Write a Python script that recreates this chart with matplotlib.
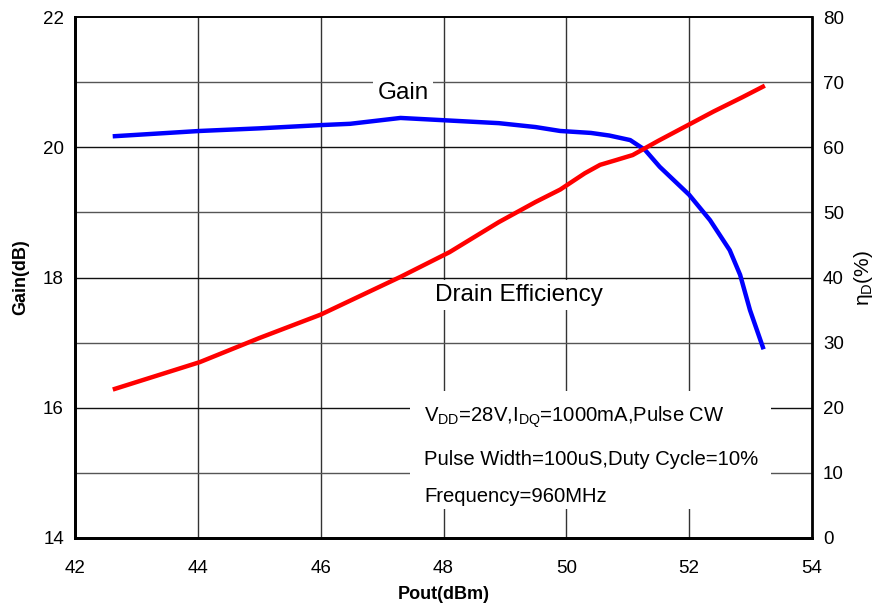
import matplotlib
matplotlib.use("Agg")
import matplotlib.pyplot as plt
from matplotlib.patches import Rectangle

plt.rcParams['font.family'] = ['Liberation Sans', 'DejaVu Sans']
plt.rcParams['mathtext.fontset'] = 'custom'
plt.rcParams['mathtext.rm'] = 'Liberation Sans'
plt.rcParams['mathtext.it'] = 'Liberation Sans:italic'
plt.rcParams['mathtext.bf'] = 'Liberation Sans:bold'

# Data
gain_pout = [42.65, 44.03, 45.0, 46.0, 46.48, 47.3, 48.1, 48.9, 49.5, 49.9, 50.4, 50.7,
             51.04, 51.28, 51.52, 52.0, 52.34, 52.66, 52.83, 52.99, 53.2]
gain_db = [20.17, 20.25, 20.29, 20.34, 20.36, 20.45, 20.41, 20.37, 20.31, 20.25, 20.22, 20.18,
           20.11, 19.96, 19.70, 19.27, 18.88, 18.42, 18.04, 17.50, 16.93]

eff_pout = [42.65, 44.03, 45.0, 46.0, 47.3, 48.1, 48.9, 49.5, 49.9, 50.3, 50.55, 50.8,
            51.08, 51.5, 51.98, 52.4, 52.87, 53.2]
eff_pct = [22.9, 27.0, 30.7, 34.3, 40.1, 43.9, 48.5, 51.6, 53.5, 56.0, 57.3, 58.0,
           58.8, 61.0, 63.4, 65.5, 67.7, 69.3]

x_ticks = [42, 44, 46, 48, 50, 52, 54]
left_ticks = [14, 16, 18, 20, 22]
right_ticks = [0, 10, 20, 30, 40, 50, 60, 70, 80]

fig = plt.figure(figsize=(8.82, 6.06), dpi=100)
ax = fig.add_axes([75/882, 68/606, 737/882, 521/606])
ax2 = ax.twinx()

ax.set_xlim(42, 54)
ax.set_ylim(14, 22)
ax2.set_ylim(0, 80)

# grid
for xv in x_ticks[1:-1]:
    ax.axvline(xv, color='#333333', lw=1.0, zorder=0)
for yv in range(15, 22):
    c = '#111111' if yv % 2 == 0 else '#555555'
    ax.axhline(yv, color=c, lw=1.0, zorder=0)

ax.set_xticks(x_ticks)
ax.set_yticks(left_ticks)
ax2.set_yticks(right_ticks)
ax.tick_params(axis='y', length=0, labelsize=13.5, pad=8)
ax.tick_params(axis='x', length=0, labelsize=13.5, pad=16)
ax2.tick_params(axis='y', length=0, labelsize=13.5, pad=8)

for s in ['left', 'bottom']:
    ax.spines[s].set_linewidth(2)
ax2.spines['right'].set_linewidth(2)
ax2.spines['left'].set_linewidth(2)
ax2.spines['bottom'].set_linewidth(2)
ax.spines['top'].set_linewidth(1.2)
ax2.spines['top'].set_linewidth(1.2)

ax.set_xlabel('Pout(dBm)', fontsize=13, fontweight='bold', labelpad=6)
ax.set_ylabel('Gain(dB)', fontsize=13, fontweight='bold', labelpad=10)
ax2.set_ylabel(r'$\mathregular{\eta_D(\%)}$', fontsize=15, labelpad=6)

# white box behind conditions text (covers grid)
ax.add_patch(Rectangle((0.455, 0.055), 0.49, 0.227, transform=ax.transAxes,
                       facecolor='white', edgecolor='none', zorder=1))

ax.plot(gain_pout, gain_db, color='#0000ff', lw=3.2, zorder=3)
ax2.plot(eff_pout, eff_pct, color='#ff0000', lw=3.2, zorder=3)

ax.text(47.34, 20.83, 'Gain', fontsize=17.5, ha='center', va='center', zorder=2,
        bbox=dict(facecolor='white', edgecolor='none', pad=3))
ax.text(49.23, 17.73, 'Drain Efficiency', fontsize=17.5, ha='center', va='center', zorder=2,
        bbox=dict(facecolor='white', edgecolor='none', pad=3))

tx = 0.474
ax.text(tx, 0.2226, r'$\mathregular{V_{DD}}$=28V,$\mathregular{I_{DQ}}$=1000mA,Pulse CW',
        transform=ax.transAxes, fontsize=14.6, va='baseline', zorder=2)
ax.text(tx, 0.1401, 'Pulse Width=100uS,Duty Cycle=10%', transform=ax.transAxes,
        fontsize=14.6, va='baseline', zorder=2)
ax.text(tx, 0.0691, 'Frequency=960MHz', transform=ax.transAxes,
        fontsize=14.6, va='baseline', zorder=2)

fig.savefig('out.png', dpi=100)
